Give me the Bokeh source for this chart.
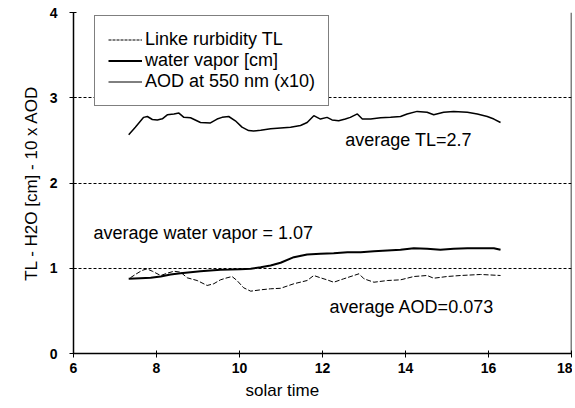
from bokeh.plotting import figure
from bokeh.models import Range1d, Span, Label, Legend, LegendItem, FixedTicker, Title
from bokeh.embed import file_html
from bokeh.resources import INLINE

# ---- data ----
tl_x = [7.33, 7.49, 7.69, 7.78, 7.90, 8.02, 8.14, 8.26, 8.42, 8.54, 8.66, 8.82, 9.06, 9.30, 9.46,
        9.58, 9.74, 9.90, 10.06, 10.22, 10.34, 10.51, 10.75, 10.99, 11.23, 11.47, 11.63, 11.79,
        11.95, 12.11, 12.23, 12.39, 12.55, 12.67, 12.84, 12.96, 13.16, 13.40, 13.64, 13.88, 14.04,
        14.28, 14.52, 14.68, 14.92, 15.16, 15.49, 15.73, 15.97, 16.13, 16.29]
tl_y = [2.565, 2.655, 2.77, 2.78, 2.745, 2.74, 2.753, 2.80, 2.81, 2.82, 2.77, 2.765, 2.71, 2.705, 2.75,
        2.77, 2.78, 2.73, 2.655, 2.615, 2.61, 2.62, 2.635, 2.645, 2.655, 2.675, 2.71, 2.79,
        2.75, 2.77, 2.74, 2.73, 2.75, 2.77, 2.81, 2.75, 2.75, 2.765, 2.77, 2.78, 2.81,
        2.84, 2.83, 2.80, 2.83, 2.84, 2.83, 2.81, 2.78, 2.75, 2.71]

wv_x = [7.33, 7.61, 7.86, 8.10, 8.34, 8.58, 8.82, 9.06, 9.30, 9.54, 9.78, 10.02, 10.27, 10.51,
        10.75, 10.99, 11.31, 11.63, 11.95, 12.27, 12.60, 12.92, 13.24, 13.56, 13.88, 14.20,
        14.52, 14.84, 15.16, 15.49, 15.81, 16.13, 16.29]
wv_y = [0.876, 0.883, 0.888, 0.903, 0.927, 0.942, 0.954, 0.965, 0.974, 0.982, 0.985, 0.989, 0.993, 1.012,
        1.032, 1.065, 1.13, 1.161, 1.17, 1.177, 1.188, 1.188, 1.20, 1.208, 1.216, 1.235,
        1.228, 1.216, 1.228, 1.235, 1.235, 1.235, 1.216]

aod_x = [7.37, 7.49, 7.65, 7.77, 7.90, 8.10, 8.26, 8.42, 8.58, 8.74, 8.98, 9.22, 9.38, 9.54, 9.70,
         9.82, 9.94, 10.10, 10.27, 10.51, 10.75, 10.99, 11.31, 11.63, 11.79, 11.95, 12.11, 12.27,
         12.51, 12.88, 13.00, 13.24, 13.56, 13.88, 14.20, 14.52, 14.68, 15.00, 15.33, 15.81, 16.29]
aod_y = [0.888, 0.927, 0.974, 0.993, 0.965, 0.915, 0.942, 0.965, 0.954, 0.888, 0.856, 0.798, 0.818, 0.864, 0.888,
         0.903, 0.856, 0.771, 0.731, 0.747, 0.759, 0.765, 0.818, 0.856, 0.915, 0.888, 0.864, 0.836,
         0.876, 0.935, 0.876, 0.836, 0.856, 0.864, 0.903, 0.915, 0.883, 0.903, 0.915, 0.927, 0.915]

series_names = ["Linke rurbidity TL", "water vapor [cm]", "AOD at 550 nm (x10)"]
y_ticks = [0, 1, 2, 3, 4]
x_ticks = [6, 8, 10, 12, 14, 16, 18]
grid_levels = [1, 2, 3, 4]

annotations = [("average TL=2.7", 12.55, 2.50),
               ("average water vapor = 1.07", 6.48, 1.41),
               ("average AOD=0.073", 12.17, 0.54)]

FONT = "Liberation Sans"
NAN = float("nan")

p = figure(width=572, height=405, output_backend="svg", toolbar_location=None,
           x_range=Range1d(6, 18), y_range=Range1d(0, 4),
           min_border_left=73, min_border_right=1, min_border_top=12, min_border_bottom=52)
p.outline_line_color = None
p.background_fill_color = "white"
p.border_fill_color = "white"

# grid
p.xgrid.visible = False
p.ygrid.ticker = FixedTicker(ticks=grid_levels)
p.ygrid.grid_line_color = "black"
p.ygrid.grid_line_dash = "3 2"
p.ygrid.grid_line_width = 1

# axes
for ax in (p.xaxis[0], p.yaxis[0]):
    ax.axis_line_color = "black"
    ax.axis_line_width = 1.5
    ax.major_tick_line_color = "black"
    ax.major_tick_in = 3
    ax.major_tick_out = 4
    ax.minor_tick_line_color = None
    ax.major_label_text_font = FONT
    ax.major_label_text_font_size = "14px"
    ax.major_label_text_font_style = "bold"
    ax.major_label_text_color = "black"
    ax.axis_label_text_font = FONT
    ax.axis_label_text_font_size = "17px"
    ax.axis_label_text_font_style = "normal"
    ax.axis_label_text_color = "black"

p.xaxis.ticker = FixedTicker(ticks=x_ticks)
p.yaxis.ticker = FixedTicker(ticks=y_ticks)
p.xaxis.major_label_standoff = 5
p.yaxis.major_label_standoff = 12
p.yaxis.axis_label = "TL - H2O [cm] - 10 x AOD"
p.yaxis.axis_label_standoff = 6

# x axis title, placed left of centre like the reference
p.add_layout(Title(text="solar time", align="left", offset=172, standoff=6,
                   text_font=FONT, text_font_size="17px", text_font_style="normal",
                   text_color="black"), "below")

# right frame line
p.add_layout(Span(location=18, dimension="height", line_color="black", line_width=1.5))

# data lines
p.line(tl_x, tl_y, line_color="black", line_width=1.5)
p.line(wv_x, wv_y, line_color="black", line_width=2)
p.line(aod_x, aod_y, line_color="black", line_width=1, line_dash="5 2")

# legend-only renderers
r_tl = p.line([NAN], [NAN], line_color="black", line_width=1.2, line_dash="3 1")
r_wv = p.line([NAN], [NAN], line_color="black", line_width=1.8)
r_aod = p.line([NAN], [NAN], line_color="black", line_width=1)

legend = Legend(items=[LegendItem(label=series_names[0], renderers=[r_tl]),
                       LegendItem(label=series_names[1], renderers=[r_wv]),
                       LegendItem(label=series_names[2], renderers=[r_aod])],
                location=(21, 247), orientation="vertical",
                padding=13, spacing=0, margin=0,
                label_height=21, glyph_height=21, glyph_width=34, label_standoff=3,
                label_text_font=FONT, label_text_font_size="18px", label_text_color="black",
                border_line_color="black", border_line_width=1.2,
                background_fill_color="white", background_fill_alpha=1)
p.add_layout(legend, "center")

# annotations
for txt, x, y in annotations:
    p.add_layout(Label(x=x, y=y, text=txt, text_font=FONT, text_font_size="18px",
                       text_baseline="middle", text_align="left", text_color="black"))

open("out.html", "w").write(file_html(p, INLINE))
